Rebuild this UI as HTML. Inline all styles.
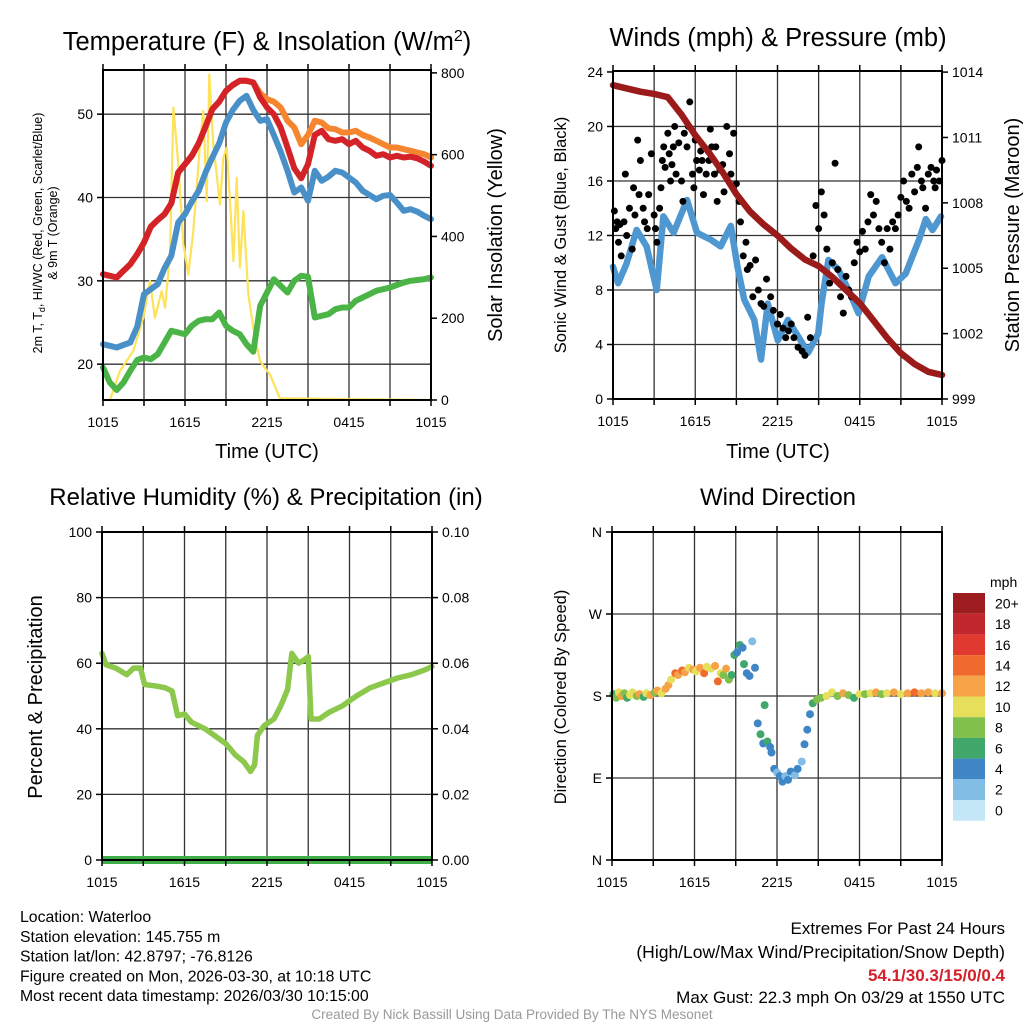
<!DOCTYPE html>
<html><head><meta charset="utf-8"><style>
body{margin:0;background:#fff;}
svg{display:block;font-family:"Liberation Sans",sans-serif;}
</style></head><body>
<svg id="c" width="1024" height="1024" viewBox="0 0 1024 1024"></svg>
<script>
// ---- data ----
const halfHours = [0,0.5,1,1.5,2,2.5,3,3.5,4,4.5,5,5.5,6,6.5,7,7.5,8,8.5,9,9.5,10,10.5,11,11.5,12,12.5,13,13.5,14,14.5,15,15.5,16,16.5,17,17.5,18,18.5,19,19.5,20,20.5,21,21.5,22,22.5,23,23.5,24];
const tempRed = [30.8,30.6,30.4,31.2,32,33.2,34.6,36.5,37.3,38,39.3,43,44,45,46.5,48.5,50.6,51.5,52.8,53.5,54,54,53.8,52,50.8,50,48.4,46,43.5,42.3,44,47.5,48,47,46.8,47,46.4,46.8,46,45.6,45,45.2,44.8,45,44.8,44.9,44.7,44.3,43.8];
const temp9m = [30.8,30.6,30.4,31.2,32,33.2,34.6,36.5,37.3,38,39.3,43,44,45,46.5,48.5,50.6,51.5,52.8,53.5,54,54,53.8,52.5,51.8,51.5,50.8,49.2,48.4,46.4,47.5,49.2,49,48.3,48.2,47.8,47.8,48,47.5,47.2,46.8,46.4,46,46,45.8,45.6,45.4,45.2,44.8];
const tempBlue = [22.4,22.2,22,22.3,22.6,24.5,28.4,29,29.6,31.5,33,37,38,39.5,40.8,43,44.8,46.5,49,50.5,51.6,52.2,50.5,49.2,49.4,47.5,45.5,43.2,40.6,41.2,39.6,43.2,42,42.5,43.2,43,42.4,41.8,40.8,40.3,39.8,40.2,40.3,39.4,38.4,38.6,38.3,37.8,37.4];
const dewGreen = [19.6,17.8,16.9,17.8,19.2,20.5,20.8,20.6,21.2,22.6,24,23.8,23.6,24.6,25.2,25.4,25.4,26.2,24.6,24,23.6,22.4,21.5,27,28.6,30.2,29.4,28.6,30,30.6,30.5,25.6,25.8,26,26.6,26.8,26.8,27.6,28,28.4,28.8,29,29.2,29.5,29.8,30,30.1,30.2,30.4];
const solarHours = [0,0.51,1.24,2.22,2.95,3.44,3.8,4.29,4.54,4.9,5.15,5.51,5.88,6.24,6.61,7.1,7.34,7.59,7.78,8.07,8.56,8.8,9.05,9.29,9.54,9.78,10.02,10.27,10.63,11.0,11.49,12.22,12.95,24];
const solarValues = [0,0,71,120,201,291,201,266,226,356,715,576,381,307,413,625,707,486,796,625,478,592,617,486,340,543,324,462,259,177,95,62,4,0];
const pressHours = [0,1,2,3,4,5,6,7,8,9,10,11,12,13,14,15,16,17,18,19,20,21,22,23,24];
const pressure = [1013.4,1013.25,1013.1,1013.0,1012.85,1012.05,1011.1,1010.3,1009.4,1008.4,1007.6,1007.0,1006.5,1005.9,1005.4,1005.1,1004.6,1004.0,1003.4,1002.6,1001.8,1001.1,1000.6,1000.25,1000.1];
const windHours = [0,0.37,0.98,1.72,2.45,3.19,3.68,4.42,5.4,6.13,7.12,7.85,8.59,9.08,9.57,10.31,10.8,11.29,12.02,12.76,13.5,14.23,14.97,15.21,15.71,16.44,17.18,17.91,18.65,19.63,20.61,21.35,22.33,22.82,23.31,23.93];
const windSpeed = [9.7,8.5,9.9,12.4,11.2,8.0,13.4,12.2,14.6,12.2,11.7,11.2,12.7,9.7,7.3,5.8,2.9,7.0,4.3,5.8,4.6,3.4,4.8,7.0,10.2,9.5,8.0,6.3,9.0,10.4,8.5,9.2,11.7,13.2,12.4,13.4];
const gustHours = [0.1,0.2,0.3,0.4,0.5,0.6,0.8,0.9,1.0,1.2,1.4,1.5,1.6,1.8,1.9,2.0,2.2,2.3,2.5,2.6,2.8,3.0,3.1,3.2,3.4,3.5,3.6,3.7,3.8,4.0,4.1,4.2,4.3,4.4,4.5,4.6,4.8,5.0,5.1,5.2,5.4,5.5,5.6,5.8,5.9,6.0,6.1,6.3,6.4,6.5,6.6,6.8,7.0,7.1,7.2,7.4,7.5,7.6,7.8,8.0,8.1,8.3,8.5,8.6,8.8,9.0,9.2,9.3,9.5,9.7,9.8,10.0,10.2,10.4,10.6,10.8,11.0,11.2,11.5,11.7,12,12.2,12.4,12.6,12.8,13.0,13.2,13.5,13.8,14.0,14.2,14.4,14.6,14.8,15.0,15.2,15.4,15.6,15.8,16,16.2,16.4,16.6,16.8,17.0,17.2,17.4,17.6,17.8,18.0,18.2,18.4,18.6,18.8,19.0,19.2,19.4,19.6,19.8,20.0,20.2,20.4,20.6,20.8,21.0,21.2,21.4,21.6,21.8,22.0,22.2,22.3,22.5,22.6,22.8,23.0,23.2,23.4,23.5,23.6,23.8,24];
const gustSpeed = [13.8,12.5,13,11.5,12.8,10.5,13,16.5,12,14,11,15.5,13.5,19,15,17.5,14,13,12.5,15,18,13.5,12.5,11.5,14,15.5,17.5,18.5,17,19.5,18,16,17.2,18.5,20,16.5,18.8,16,14.5,19.5,18.5,20,21.8,16.5,15.5,19,17.5,16.8,18.2,17.5,15,16.5,17.5,19.8,18.5,16.5,18.5,14.5,16.8,17.2,15.2,20,18,16.5,19.5,15.8,14.5,13,10.5,11.5,9.5,9.8,7.5,10.2,8,7,6.8,8.8,7.5,6.5,5.5,6.2,5.2,4.5,5,5.5,4.5,3.8,3.5,3.2,6,4.5,10.5,14.2,12.5,15.2,13.5,11,8.5,10,17.3,9.5,7.5,6.3,9,8,7.5,10,11.5,10.8,12.3,11,13,15,13.5,14.5,12.5,11.5,10,12.5,11,13,12.5,13.5,14.8,16,14.5,14,16.5,15.2,17,18.5,16,15.5,14,16.5,17,16,15.5,16.8,16,17.5];
const rhHours = [0,0.3,1,1.8,2.3,2.8,3.1,4,4.6,5.1,5.5,6,6.5,7.5,8,9,9.7,10.3,10.8,11.1,11.3,11.8,12.5,13,13.5,13.8,14.3,14.7,15.0,15.2,15.8,16.5,17.5,18.5,19.5,20.5,21.5,22.5,23.5,24];
const rhValues = [63,59.5,58.5,56.5,58.5,58.5,53.5,53,52.5,51.5,44,44.5,42,40,38.5,35.5,32,30,27,29,38,41,43,47,52,63,60,61,62,43,43,45,47,50,52.5,54,55.5,56.5,58,59];
const precipValue = 0;
const dirHours = [0.1,0.3,0.5,0.7,0.9,1.1,1.3,1.5,1.8,2.0,2.3,2.5,2.8,3.1,3.3,3.6,3.9,4.1,4.3,4.6,4.8,5.1,5.3,5.6,5.9,6.1,6.4,6.7,6.9,7.2,7.5,7.7,7.9,8.1,8.3,8.5,8.7,8.9,9.1,9.3,9.5,9.6,9.8,10.0,10.2,10.4,10.6,10.8,11.0,11.1,11.3,11.5,11.6,11.8,12.0,12.2,12.4,12.6,12.8,13.0,13.3,13.5,13.8,14.0,14.2,14.4,14.6,14.9,15.2,15.6,16,16.4,16.8,17.2,17.6,18,18.4,18.8,19.2,19.6,20,20.5,21,21.5,22,22.5,23,23.5,24];
const dirDeg = [182,178,184,180,183,178,181,184,180,182,179,183,181,184,186,183,188,192,198,205,203,208,206,211,209,207,211,205,212,210,213,196,205,203,210,198,203,225,228,236,233,215,205,202,240,211,150,138,128,170,130,124,118,100,96,92,86,92,88,97,93,100,108,127,143,160,172,176,178,180,184,180,183,181,178,182,182,183,184,182,183,184,182,183,184,183,184,183,183];
const dirSpeed = [7,8,10,12,9,7,10,11,8,12,7,10,12,9,13,11,13,12,11,14,13,15,12,10,13,11,12,14,10,11,12,14,11,9,12,8,7,6,5,7,4,6,5,5,3,5,5,6,4,6,6,4,5,4,3,4,4,3,4,4,3,4,3,5,4,5,7,8,8,10,11,9,12,8,7,10,9,11,12,8,10,12,11,13,14,12,13,11,12];
const colorLabels = ["20+","18","16","14","12","10","8","6","4","2","0"];
const colorSteps = ["#9c1c1f","#c1272d","#e03a30","#ef6a2c","#f6a246","#e6df5c","#80c04b","#3fa86a","#3f86c6","#82bde6","#c4e7f8"];
const timeTicks = ["1015","1615","2215","0415","1015"];
const p1Left=[20,30,40,50], p1Right=[0,200,400,600,800];
const p2Left=[0,4,8,12,16,20,24], p2Right=[999,1002,1005,1008,1011,1014];
const p3Left=[0,20,40,60,80,100], p3Right=["0.00","0.02","0.04","0.06","0.08","0.10"];
const dirTicks=["N","E","S","W","N"];

// ---- helpers ----
const S=document.getElementById('c'), NS='http://www.w3.org/2000/svg';
function mk(tag,attrs,parent){const e=document.createElementNS(NS,tag);for(const k in attrs)e.setAttribute(k,attrs[k]);(parent||S).appendChild(e);return e;}
function txt(x,y,s,size,anchor,extra){const e=mk('text',Object.assign({x:x,y:y,'font-size':size,'text-anchor':anchor||'middle',fill:'#000'},extra||{}));e.textContent=s;return e;}
function lin(d0,d1,r0,r1){return v=>r0+(v-d0)/(d1-d0)*(r1-r0);}
function path(xs,ys,fx,fy,attrs,name){let d='';for(let i=0;i<xs.length;i++)d+=(i?'L':'M')+fx(xs[i]).toFixed(1)+','+fy(ys[i]).toFixed(1);const p=mk('path',Object.assign({d:d,fill:'none','stroke-linejoin':'round','stroke-linecap':'round'},attrs));return p;}
function frame(x0,x1,y0,y1,gridY,name){
  const g=mk('g',{});
  for(let k=1;k<8;k++){const x=x0+(x1-x0)*k/8;mk('line',{x1:x,x2:x,y1:y0,y2:y1,stroke:'#333','stroke-width':1.3},g);}
  gridY.forEach(y=>mk('line',{x1:x0,x2:x1,y1:y,y2:y,stroke:'#333','stroke-width':1.3},g));
  return g;}
function border(x0,x1,y0,y1){const r=mk('rect',{x:x0,y:y0,width:x1-x0,height:y1-y0,fill:'none',stroke:'#000','stroke-width':2});
  for(let k=0;k<=8;k++){const x=x0+(x1-x0)*k/8;mk('line',{x1:x,x2:x,y1:y1,y2:y1+6,stroke:'#000','stroke-width':1.5});mk('line',{x1:x,x2:x,y1:y0,y2:y0-6,stroke:'#000','stroke-width':1.5});}
  timeTicks.forEach((t,i)=>{const e=txt(x0+(x1-x0)*i/4,y1+27,t,14);});}
function yticks(vals,labels,fy,x,side){vals.forEach((v,i)=>{const y=fy(v);mk('line',{x1:x,x2:x+(side<0?-6:6),y1:y,y2:y,stroke:'#000','stroke-width':1.5});const e=txt(x+(side<0?-10:10),y+5,labels[i],14,side<0?'end':'start');});}

// ---- Panel 1 ----
(function(){
 const x0=103,x1=431,y0=70,y1=400;
 const fx=lin(0,24,x0,x1), fy=lin(15.7,55.3,y1,y0), fr=lin(0,807,y1,y0);
 frame(x0,x1,y0,y1,p1Left.map(fy),'temp-grid');
 path(solarHours,solarValues,fx,fr,{stroke:'#fde25a','stroke-width':2.2},'solar-line');
 path(halfHours,dewGreen,fx,fy,{stroke:'#4bb446','stroke-width':6},'dewpoint-line');
 path(halfHours,tempBlue,fx,fy,{stroke:'#4a90c8','stroke-width':6},'windchill-line');
 path(halfHours,temp9m,fx,fy,{stroke:'#f5852e','stroke-width':6},'temp-9m-line');
 path(halfHours,tempRed,fx,fy,{stroke:'#d42328','stroke-width':6},'temp-2m-line');
 border(x0,x1,y0,y1);
 yticks(p1Left,p1Left.map(String),fy,x0,-1);
 yticks(p1Right,p1Right.map(String),fr,x1,1);
 let t=txt(267,50,'',25.5);t.innerHTML='Temperature (F) &amp; Insolation (W/m<tspan dy="-9" font-size="16">2</tspan><tspan dy="9">)</tspan>';
 t=txt(267,458,'Time (UTC)',20);
 const g=mk('g',{transform:'translate(42,233) rotate(-90)'});
 let a=txt(0,0,'',12.5,'middle');g.appendChild(a);a.innerHTML='2m T, T<tspan dy="3" font-size="9">d</tspan><tspan dy="-3">, HI/WC (Red, Green, Scarlet/Blue)</tspan>';
 let b=txt(0,15,'& 9m T (Orange)',12.5);g.appendChild(b);
 t=txt(0,0,'Solar Insolation (Yellow)',20,'middle',{transform:'translate(502,235) rotate(-90)'});
})();

// ---- Panel 2 ----
(function(){
 const x0=613,x1=942,y0=71,y1=399;
 const fx=lin(0,24,x0,x1), fy=lin(0,24.07,y1,y0), fr=lin(999,1014.05,y1,y0);
 frame(x0,x1,y0,y1,[4,8,12,16,20].map(fy),'wind-grid');
 path(windHours,windSpeed,fx,fy,{stroke:'#4f97d0','stroke-width':6.5},'sonic-wind-line');
 gustHours.forEach((h,i)=>{const c=mk('circle',{cx:fx(h),cy:fy(gustSpeed[i]),r:3.5,fill:'#000'});});
 path(pressHours,pressure,fx,fr,{stroke:'#9b1b1b','stroke-width':6.5},'pressure-line');
 border(x0,x1,y0,y1);
 yticks(p2Left,p2Left.map(String),fy,x0,-1);
 yticks(p2Right,p2Right.map(String),fr,x1,1);
 let t=txt(778,46,'Winds (mph) & Pressure (mb)',25.5);
 t=txt(778,458,'Time (UTC)',20);
 t=txt(0,0,'Sonic Wind & Gust (Blue, Black)',16.5,'middle',{transform:'translate(566,235) rotate(-90)'});
 t=txt(0,0,'Station Pressure (Maroon)',20,'middle',{transform:'translate(1019,235) rotate(-90)'});
})();

// ---- Panel 3 ----
(function(){
 const x0=102,x1=432,y0=532,y1=860;
 const fx=lin(0,24,x0,x1), fy=lin(0,100,y1,y0), fr=lin(0,0.1,y1,y0);
 frame(x0,x1,y0,y1,[20,40,60,80].map(fy),'rh-grid');
 path(rhHours,rhValues,fx,fy,{stroke:'#8cc84b','stroke-width':5.5},'rh-line');
 path([0,24],[precipValue,precipValue],fx,fr,{stroke:'#3fae49','stroke-width':8,'stroke-linecap':'butt'},'precip-line');
 border(x0,x1,y0,y1);
 yticks(p3Left,p3Left.map(String),fy,x0,-1);
 yticks(p3Left.map(v=>v/1000),p3Right,fr,x1,1);
 let t=txt(266,505,'Relative Humidity (%) & Precipitation (in)',24);
 t=txt(0,0,'Percent & Precipitation',20,'middle',{transform:'translate(42,697) rotate(-90)'});
})();

// ---- Panel 4 ----
(function(){
 const x0=612,x1=942,y0=532,y1=860;
 const fx=lin(0,24,x0,x1), fy=lin(0,360,y1,y0);
 frame(x0,x1,y0,y1,[90,180,270].map(fy),'dir-grid');
 function col(s){let k=Math.floor(s/2);if(k>10)k=10;return colorSteps[10-k];}
 dirHours.forEach((h,i)=>{const c=mk('circle',{cx:fx(h),cy:fy(dirDeg[i]),r:4,fill:col(dirSpeed[i])});});
 border(x0,x1,y0,y1);
 yticks([0,90,180,270,360],dirTicks,fy,x0,-1);
 let t=txt(778,505,'Wind Direction',24);
 t=txt(0,0,'Direction (Colored By Speed)',16.5,'middle',{transform:'translate(566,697) rotate(-90)'});
 const lg=mk('g',{});
 const by=593,bh=20.7;
 colorSteps.forEach((c,i)=>{const r=mk('rect',{x:953,y:by+i*bh,width:32,height:bh,fill:c},lg);
   const l=txt(995,by+i*bh+bh/2+5,colorLabels[i],14,'start');});
 t=txt(990,587,'mph',14,'start');
})();

// ---- footer ----
const leftLines=['Location: Waterloo','Station elevation: 145.755 m','Station lat/lon: 42.8797; -76.8126','Figure created on Mon, 2026-03-30, at 10:18 UTC','Most recent data timestamp: 2026/03/30 10:15:00'];
leftLines.forEach((s,i)=>{const e=txt(20,922+i*19.8,s,15.8,'start');});
let f=txt(1005,934,'Extremes For Past 24 Hours',17,'end');
f=txt(1005,958,'(High/Low/Max Wind/Precipitation/Snow Depth)',17.5,'end');
f=txt(1005,981,'54.1/30.3/15/0/0.4',17,'end',{fill:'#d3202a','font-weight':'bold'});
f=txt(1005,1003,'Max Gust: 22.3 mph On 03/29 at 1550 UTC',17,'end');
f=txt(512,1019,'Created By Nick Bassill Using Data Provided By The NYS Mesonet',13.5,'middle',{fill:'#999'});
</script>
</body></html>
